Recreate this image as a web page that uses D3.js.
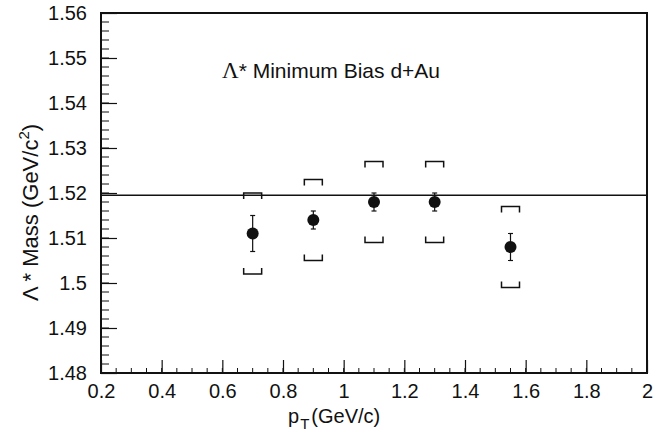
<!DOCTYPE html>
<html><head><meta charset="utf-8">
<script src="https://cdn.jsdelivr.net/npm/d3@7"></script>
<style>body{margin:0;background:#fff;} svg{display:block;} text{font-family:"Liberation Sans",Arial,sans-serif;fill:#111;}</style>
</head><body><svg id="c" width="666" height="434"></svg>
<script>
const pt = [0.7, 0.9, 1.1, 1.3, 1.55];
const mass = [1.511, 1.514, 1.518, 1.518, 1.508];
const statErr = [0.004, 0.002, 0.002, 0.002, 0.003];
const sysErr = [0.009, 0.009, 0.009, 0.009, 0.009];
const pdgMass = 1.5195;
const xTicks = [0.2, 0.4, 0.6, 0.8, 1.0, 1.2, 1.4, 1.6, 1.8, 2.0];
const yTicks = [1.48, 1.49, 1.50, 1.51, 1.52, 1.53, 1.54, 1.55, 1.56];
const xDomain = [0.2, 2.0];
const yDomain = [1.48, 1.56];
const titleText = "Minimum Bias d+Au";

const svg = d3.select("#c");
const L = 101, R = 647, T = 13, B = 373;
const x = d3.scaleLinear().domain(xDomain).range([L, R]);
const y = d3.scaleLinear().domain(yDomain).range([B, T]);
const fmt = d => String(+d.toFixed(2));

// minor ticks
const xMinor = d3.range(xDomain[0], xDomain[1] + 1e-9, 0.05);
const yMinor = d3.range(yDomain[0], yDomain[1] + 1e-9, 0.002);
svg.append("g").selectAll("line").data(xMinor).join("line")
  .attr("x1", d => x(d)).attr("x2", d => x(d)).attr("y1", B).attr("y2", B - 5)
  .attr("stroke", "#111").attr("stroke-width", 1);
svg.append("g").selectAll("line").data(yMinor).join("line")
  .attr("y1", d => y(d)).attr("y2", d => y(d)).attr("x1", L).attr("x2", L + 8)
  .attr("stroke", "#111").attr("stroke-width", 1);

// axes
const gx = svg.append("g").attr("transform", `translate(0,${B})`)
  .call(d3.axisBottom(x).tickValues(xTicks).tickFormat(fmt).tickSizeInner(-13).tickSizeOuter(0).tickPadding(11));
const gy = svg.append("g").attr("transform", `translate(${L},0)`)
  .call(d3.axisLeft(y).tickValues(yTicks).tickFormat(fmt).tickSizeInner(-16).tickSizeOuter(0).tickPadding(14));
[gx, gy].forEach(g => {
  g.select(".domain").remove();
  g.selectAll(".tick line").attr("stroke", "#111").attr("stroke-width", 1.2);
  g.selectAll(".tick text").attr("font-size", 20).attr("font-family", "Liberation Sans, Arial, sans-serif").attr("fill", "#111");
});
gx.selectAll(".tick text").attr("dy", "0.71em");

// frame
svg.append("rect").attr("x", L).attr("y", T).attr("width", R - L).attr("height", B - T)
  .attr("fill", "none").attr("stroke", "#111").attr("stroke-width", 2);

// reference line
svg.append("line").attr("x1", L).attr("x2", R).attr("y1", y(pdgMass)).attr("y2", y(pdgMass))
  .attr("stroke", "#111").attr("stroke-width", 1.5);

const data = pt.map((p, i) => ({p, m: mass[i], s: statErr[i], sy: sysErr[i]}));
const bw = 9, leg = 6;
const g = svg.append("g");
// systematic brackets
data.forEach(d => {
  const cx = x(d.p), yt = y(d.m + d.sy), yb = y(d.m - d.sy);
  g.append("path").attr("d", `M${cx - bw},${yt + leg}V${yt}H${cx + bw}V${yt + leg}`)
    .attr("fill", "none").attr("stroke", "#111").attr("stroke-width", 1.5);
  g.append("path").attr("d", `M${cx - bw},${yb - leg}V${yb}H${cx + bw}V${yb - leg}`)
    .attr("fill", "none").attr("stroke", "#111").attr("stroke-width", 1.5);
  // stat error
  g.append("line").attr("x1", cx).attr("x2", cx).attr("y1", y(d.m + d.s)).attr("y2", y(d.m - d.s))
    .attr("stroke", "#111").attr("stroke-width", 1.2);
  [d.m + d.s, d.m - d.s].forEach(v => g.append("line").attr("x1", cx - 2.5).attr("x2", cx + 2.5)
    .attr("y1", y(v)).attr("y2", y(v)).attr("stroke", "#111").attr("stroke-width", 1.2));
});
g.selectAll("circle").data(data).join("circle")
  .attr("cx", d => x(d.p)).attr("cy", d => y(d.m)).attr("r", 6).attr("fill", "#111");

// title
const t = svg.append("text").attr("x", 222).attr("y", 78).attr("font-size", 21);
t.append("tspan").attr("font-family", "Liberation Serif, Times New Roman, serif").attr("font-size", 23).text("Λ");
t.append("tspan").text("* " + titleText);

// x title
const xt = svg.append("text").attr("x", 288).attr("y", 423).attr("font-size", 20);
xt.append("tspan").text("p");
xt.append("tspan").attr("font-size", 15).attr("dy", 6).attr("dx", 1).text("T");
xt.append("tspan").attr("dy", -6).attr("dx", 2).text("(GeV/c)");

// y title
const yt = svg.append("text").attr("transform", `translate(38,301) rotate(-90)`).attr("font-size", 22);
yt.append("tspan").text("Λ * Mass (GeV/c");
yt.append("tspan").attr("font-size", 15).attr("dy", -9).text("2");
yt.append("tspan").attr("dy", 9).text(")");
</script></body></html>
